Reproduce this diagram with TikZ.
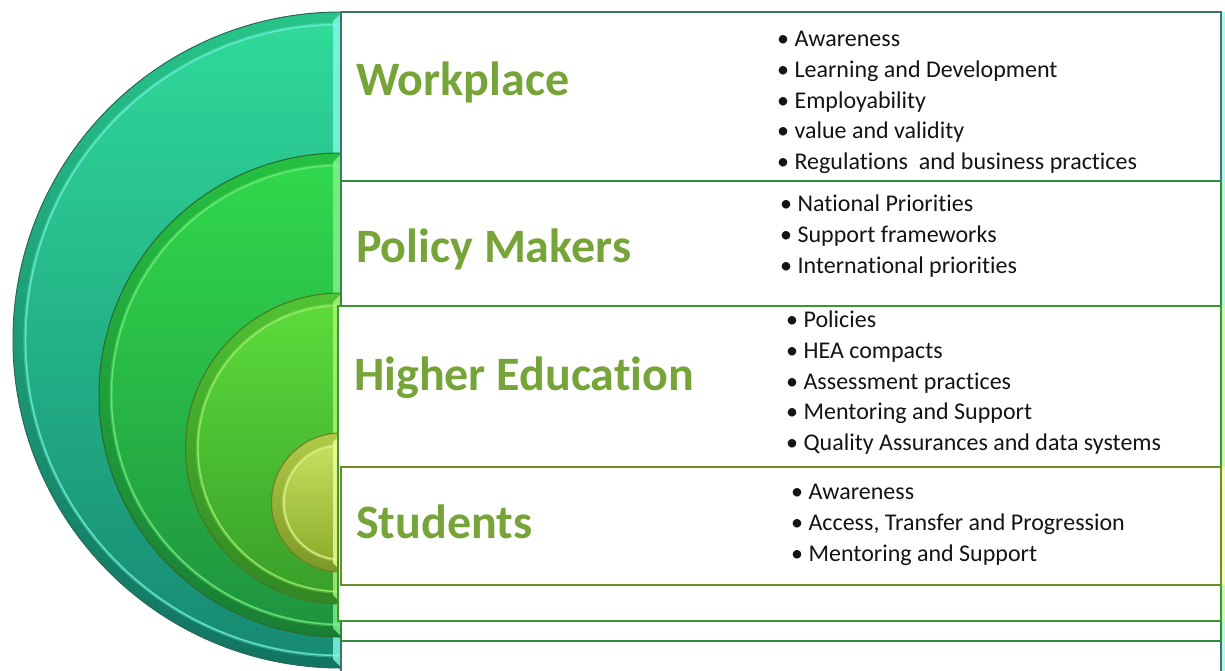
\documentclass[tikz,border=0pt]{standalone}
\usepackage{fontspec}
\setmainfont{Carlito}[Ligatures={NoCommon}]
% semicircle colours
\definecolor{tealTop}{HTML}{30D99A}
\definecolor{tealBot}{HTML}{178A73}
\definecolor{tealRingT}{HTML}{27C489}
\definecolor{tealRingB}{HTML}{127462}
\definecolor{tealHi}{HTML}{6CF3DA}
\definecolor{tealStrip}{HTML}{86F8EA}
\definecolor{tealEdge}{HTML}{2A6A58}
\definecolor{polTop}{HTML}{31D84C}
\definecolor{polBot}{HTML}{1F9440}
\definecolor{polRingT}{HTML}{26C041}
\definecolor{polRingB}{HTML}{197E35}
\definecolor{polHi}{HTML}{6EF27C}
\definecolor{polStrip}{HTML}{86F290}
\definecolor{polEdge}{HTML}{2C6A2C}
\definecolor{higTop}{HTML}{5CDB3A}
\definecolor{higBot}{HTML}{3AA02A}
\definecolor{higRingT}{HTML}{50C333}
\definecolor{higRingB}{HTML}{318723}
\definecolor{higHi}{HTML}{9CF46A}
\definecolor{higStrip}{HTML}{B0F47E}
\definecolor{higEdge}{HTML}{497824}
\definecolor{stuTop}{HTML}{C6DE5E}
\definecolor{stuBot}{HTML}{8FAE2E}
\definecolor{stuRingT}{HTML}{B0CA48}
\definecolor{stuRingB}{HTML}{7C9826}
\definecolor{stuHi}{HTML}{E4F98C}
\definecolor{stuStrip}{HTML}{F2FBA4}
\definecolor{stuEdge}{HTML}{6C7E22}
% boxes
\definecolor{wpEdge}{HTML}{3C7664}
\definecolor{wpSide}{HTML}{B4F6F0}
\definecolor{pmEdge}{HTML}{2E8A3E}
\definecolor{pmSide}{HTML}{BDF6E0}
\definecolor{heEdge}{HTML}{3F9630}
\definecolor{heSide}{HTML}{CDF7B5}
\definecolor{stEdge}{HTML}{6C8E26}
\definecolor{stSide}{HTML}{F2FBB8}
\definecolor{titlegreen}{HTML}{76A438}
\definecolor{bodytext}{HTML}{141414}
\newcommand\halfdisc[4]{%
  \fill[top color=#4RingT, bottom color=#4RingB] (#1,#2+#3) arc[start angle=90,end angle=270,radius=#3] -- cycle;
  \fill[top color=#4Top, bottom color=#4Bot] (#1,#2+#3-13) arc[start angle=90,end angle=270,radius=#3-13] -- cycle;
  \draw[#4Hi, line width=3.2pt, opacity=0.35] (#1,#2+#3-12) arc[start angle=90,end angle=270,radius=#3-12];
  \draw[#4Hi, line width=1.4pt, opacity=0.8] (#1,#2+#3-12.5) arc[start angle=90,end angle=270,radius=#3-12.5];
  \fill[#4Strip, opacity=0.8] (#1-8,#2-#3+9) -- (#1,#2-#3+1) -- (#1,#2+#3-1) -- (#1-8,#2+#3-9) -- cycle;
  \draw[#4Edge, line width=1pt] (#1,#2+#3) arc[start angle=90,end angle=270,radius=#3];
}
\tikzset{
  title/.style={font=\fontsize{48}{57}\selectfont\bfseries, text=titlegreen, inner sep=0pt, anchor=base west},
  bullets/.style={font=\fontsize{24}{30.7}\selectfont, text=bodytext, align=left, inner sep=0pt, anchor=north west},
  boxrect/.style={fill=white, line width=1.6pt},
}
\begin{document}
\begin{tikzpicture}[x=1pt,y=-1pt]
\useasboundingbox (0,0) rectangle (1225,670);
\fill[white] (0,0) rectangle (1225,670);
% nested half discs
\halfdisc{341}{340}{328}{teal}
\halfdisc{341}{395}{242}{pol}
\halfdisc{341}{448.5}{155.5}{hig}
\halfdisc{341}{502.5}{69.5}{stu}
% boxes
\fill[wpSide] (1221,12) rectangle (1225,672);
\draw[boxrect, draw=wpEdge] (341,12) rectangle (1221,672);
\fill[pmSide] (1221,181) rectangle (1225,641);
\draw[boxrect, draw=pmEdge] (341,181) rectangle (1221,641);
\fill[heSide] (1221,306) rectangle (1225,621);
\draw[boxrect, draw=heEdge] (338,306) rectangle (1221,621);
\fill[stSide] (1221,467) rectangle (1225,585);
\draw[boxrect, draw=stEdge] (341,467) rectangle (1221,585);
% titles
\node[title] (tWork) at (356,95) {Workplace};
\node[title] (tPolicy) at (356,262) {Policy Makers};
\node[title] (tHigher) at (354,390) {Higher Education};
\node[title] (tStudents) at (356,538) {Students};
% bullet lists
\node[bullets] (lWork) at (777,25) {\strut• Awareness\\\strut• Learning and Development\\\strut• Employability\\\strut• value and validity\\\strut• Regulations\ \ and business practices};
\node[bullets] (lPolicy) at (780,190) {\strut• National Priorities\\\strut• Support frameworks\\\strut• International priorities};
\node[bullets] (lHigher) at (786,306) {\strut• Policies\\\strut• HEA compacts\\\strut• Assessment practices\\\strut• Mentoring and Support\\\strut• Quality Assurances and data systems};
\node[bullets] (lStudents) at (791,478) {\strut• Awareness\\\strut• Access, Transfer and Progression\\\strut• Mentoring and Support};
\end{tikzpicture}
\end{document}
